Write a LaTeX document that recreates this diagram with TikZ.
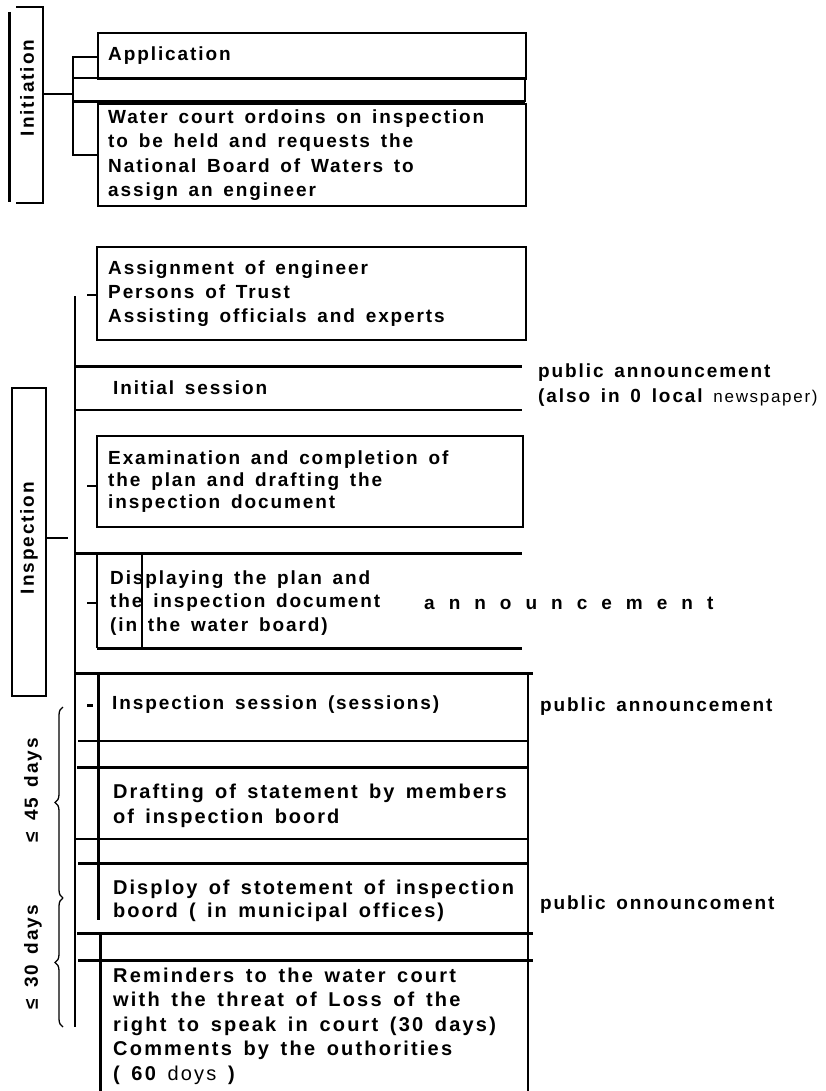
\documentclass[tikz,border=0pt]{standalone}
\usepackage{fontspec}
\setmainfont{Liberation Sans}
\newfontfamily\diagfont[LetterSpace=10, WordSpace=1.5]{Liberation Sans}
\usetikzlibrary{decorations.pathreplacing}

\tikzset{
  lbl/.style={font=\diagfont\bfseries\fontsize{19}{24}\selectfont, inner sep=0pt, anchor=west, align=left},
  frame/.style={draw, line width=1.6pt, inner sep=0pt, anchor=north west},
  rule/.style={line width=1.6pt},
  heavy/.style={line width=3pt},
}

\begin{document}
\begin{tikzpicture}[x=1pt, y=-1pt]
  \useasboundingbox (0,0) rectangle (825,1091);

  % Initiation
  \draw[heavy] (9,12) -- (9,202);
  \draw[rule] (16,7) -- (43,7) -- (43,203) -- (16,203);
  \node[lbl, anchor=center, rotate=90] (initiation) at (27,88) {Initiation};
  \draw[rule] (43,94) -- (73,94);
  \draw[rule] (97,57) -- (73,57) -- (73,155) -- (97,155);

  \node[frame, minimum width=428pt, minimum height=46pt] (app) at (97,32) {};
  \node[lbl] (apptxt) at (108,56) {Application};
  \draw[rule] (73,78) -- (525,78) -- (525,102);
  \draw[heavy] (73,102) -- (525,102);
  \node[frame, minimum width=428pt, minimum height=102pt] (court) at (97,103) {};
  \node[lbl, font=\diagfont\bfseries\fontsize{19}{24.3}\selectfont] (courttxt) at (108,155)
    {Water court ordoins on inspection\\to be held and requests the\\National Board of Waters to\\assign an engineer};

  % Inspection
  \node[frame, minimum width=429pt, minimum height=93pt] (assign) at (96,246) {};
  \node[lbl] (assigntxt) at (108,294)
    {Assignment of engineer\\Persons of Trust\\Assisting officials and experts};
  \draw[rule] (87,295) -- (assign.west |- 0,295);
  \draw[rule] (75,296) -- (75,1027);

  \draw[heavy] (75,366) -- (522,366);
  \node[lbl] (initial) at (113,388) {Initial session};
  \draw[rule] (75,410) -- (522,410);
  \node[lbl] (pa1) at (538,373) {public announcement};
  \node[lbl] (pa1b) at (538,398) {(also in 0 local {\mdseries\fontsize{17}{17}\selectfont newspaper)}};

  \draw[rule] (12,388) rectangle (46,696);
  \node[lbl, anchor=center, rotate=90] (inspection) at (29,538) {Inspection};
  \draw[rule] (46,538) -- (68,538);

  \node[frame, minimum width=426pt, minimum height=91pt] (exam) at (96,435) {};
  \node[lbl, font=\diagfont\bfseries\fontsize{19}{22}\selectfont] (examtxt) at (108,482)
    {Examination and completion of\\the plan and drafting the\\inspection document};
  \draw[rule] (87,486) -- (exam.west |- 0,486);

  \draw[heavy] (75,553) -- (522,553);
  \node[lbl, font=\diagfont\bfseries\fontsize{19}{23.5}\selectfont] (display) at (110,603)
    {Displaying the plan and\\the inspection document\\(in the water board)};
  \node[lbl] (ann) at (424,603)
    {\spaceskip=14pt\relax a n n o u n c e m e n t};
  \draw[rule] (97,555) -- (97,648);
  \draw[rule] (142,553) -- (142,648);
  \draw[heavy] (97,648) -- (522,648);
  \draw[rule] (87,603) -- (97,603);

  % Statement
  \draw[heavy] (75,673) -- (533,673);
  \draw[rule] (528,673) -- (528,1091);
  \draw[heavy] (98,675) -- (98,920);
  \node[lbl] (session) at (112,705) {Inspection session (sessions)};
  \draw[heavy] (87,705) -- (93,705);
  \node[lbl] (pa2) at (540,707) {public announcement};
  \draw[rule] (78,741) -- (528,741);
  \draw[heavy] (77,767) -- (528,767);
  \node[lbl, font=\diagfont\bfseries\fontsize{20}{25}\selectfont] (drafting) at (113,806)
    {Drafting of statement by members\\of inspection boord};
  \draw[rule] (75,839) -- (528,839);
  \draw[heavy] (78,863) -- (528,863);
  \node[lbl, font=\diagfont\bfseries\fontsize{20}{23}\selectfont] (stmt) at (113,901)
    {Disploy of stotement of inspection\\boord ( in municipal offices)};
  \node[lbl] (pa3) at (540,905) {public onnouncoment};
  \draw[heavy] (77,933) -- (533,933);
  \draw[heavy] (78,960) -- (533,960);
  \draw[heavy] (100,934) -- (100,1091);
  \node[lbl, font=\diagfont\bfseries\fontsize{20}{24.5}\selectfont\addfontfeature{LetterSpace=11}] (reminders) at (113,1026)
    {Reminders to the water court\\with the threat of Loss of the\\right to speak in court (30 days)\\Comments by the outhorities\\( 60 {\mdseries doys} )};

  % Time limits
  \draw[line width=1.3pt, decorate, decoration={brace, amplitude=8pt}] (63,898) -- (63,707);
  \draw[line width=1.3pt, decorate, decoration={brace, amplitude=8pt}] (63,1027) -- (63,898);
  \node[lbl, anchor=center, rotate=90] (days45) at (33,790) {≤ 45 days};
  \node[lbl, anchor=center, rotate=90] (days30) at (33,957) {≤ 30 days};
\end{tikzpicture}
\end{document}
